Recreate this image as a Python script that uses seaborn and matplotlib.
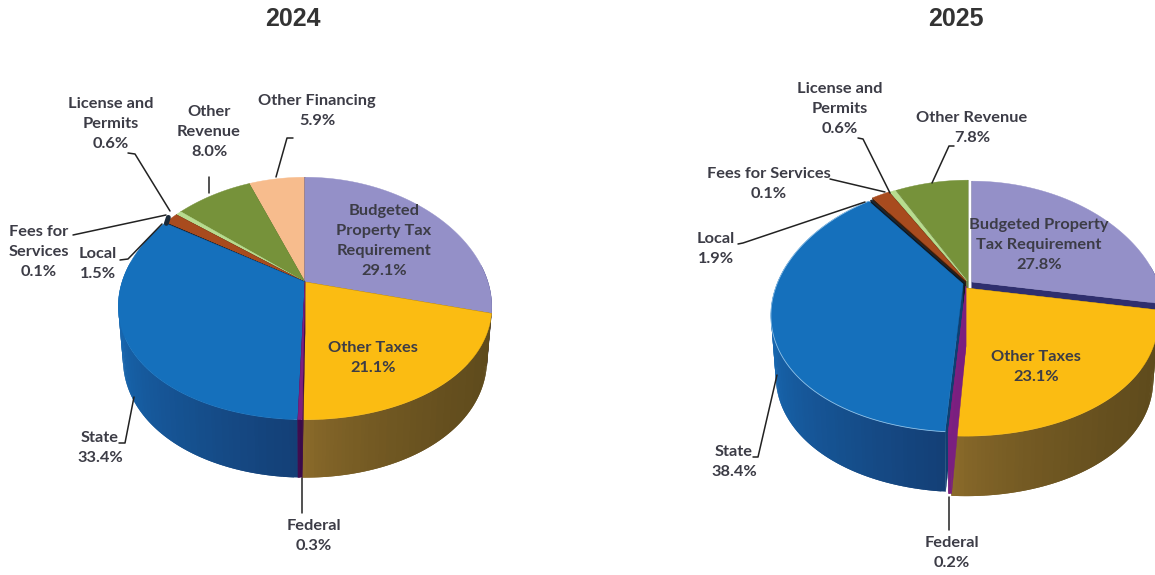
import numpy as np
import matplotlib
matplotlib.use("Agg")
import matplotlib.pyplot as plt
import seaborn as sns

# Slices run clockwise from 12 o'clock
names_2024 = ["Budgeted Property Tax Requirement", "Other Taxes", "Federal", "State",
              "Fees for Services", "Local", "License and Permits", "Other Revenue", "Other Financing"]
values_2024 = [29.1, 21.1, 0.3, 33.4, 0.1, 1.5, 0.6, 8.0, 5.9]

names_2025 = ["Budgeted Property Tax Requirement", "Other Taxes", "Federal", "State",
              "Fees for Services", "Local", "License and Permits", "Other Revenue"]
values_2025 = [27.8, 23.1, 0.2, 38.4, 0.1, 1.9, 0.6, 7.8]

# name: (top colour, cut face colour, wall colour on the left, wall colour on the right)
colors = {
    "Budgeted Property Tax Requirement": ("#9490c8", "#2f2f6e", "#2f2f6e", "#2f2f6e"),
    "Other Taxes": ("#fbbc12", "#6b5218", "#8f6e2c", "#5e4a1c"),
    "Federal": ("#7f1f7f", "#3a0a4a", "#4a0f55", "#3a0a4a"),
    "State": ("#1570bc", "#0f3f70", "#1766ae", "#143f76"),
    "Fees for Services": ("#1a2a3a", "#101820", "#1a2a3a", "#1a2a3a"),
    "Local": ("#a84b1e", "#3a1e0c", "#7a3614", "#7a3614"),
    "License and Permits": ("#b8dc8f", "#8aa868", "#8aa868", "#8aa868"),
    "Other Revenue": ("#76923a", "#55692a", "#55692a", "#55692a"),
    "Other Financing": ("#f7bc8d", "#c09068", "#c09068", "#c09068"),
}
federal_2025 = ("#7f1f7f", "#7a1f80", "#7a1f80", "#7a1f80")

# Layout in pixels: centre, radii, perspective, wall
layout_2024 = dict(cx=305, cy=282, rx=183, ry=119, kx=0.2, ky=0.136, wall=51, wall_b=1.05)
layout_2025 = dict(cx=963, cy=283, rx=186, ry=120, kx=0.25, ky=0.19, wall=60, wall_b=1.0)

explode_2025 = {
    "Budgeted Property Tax Requirement": (9, -1),
    "Other Taxes": (3, 5),
    "Federal": (3, 3),
    "State": (0, 1),
    "Fees for Services": (2, 0),
    "Local": (3, -2),
    "License and Permits": (4, -2),
    "Other Revenue": (5, -2),
}

labels_2024 = [
    ("Budgeted\nProperty Tax\nRequirement\n29.1%", 384, 241),
    ("Other Taxes\n21.1%", 373, 358),
    ("Federal\n0.3%", 314, 536),
    ("State\n33.4%", 100, 448),
    ("Local\n1.5%", 98, 264),
    ("Fees for\nServices\n0.1%", 39, 252),
    ("License and\nPermits\n0.6%", 111, 124),
    ("Other\nRevenue\n8.0%", 209, 132),
    ("Other Financing\n5.9%", 317, 111),
]
labels_2025 = [
    ("Budgeted Property\nTax Requirement\n27.8%", 1039, 245),
    ("Other Taxes\n23.1%", 1036, 367),
    ("Federal\n0.2%", 952, 553),
    ("State\n38.4%", 734, 462),
    ("Local\n1.9%", 716, 249),
    ("Fees for Services\n0.1%", 769, 184),
    ("License and\nPermits\n0.6%", 840, 109),
    ("Other Revenue\n7.8%", 972, 128),
]

leaders = [
    [(293, 138), (287, 138), (276, 177)],
    [(209, 177), (209, 193)],
    [(128, 153), (135, 154), (170, 211)],
    [(73, 235), (166, 215)],
    [(120, 260), (128, 259), (162, 224)],
    [(119, 443), (125, 443), (134, 397)],
    [(302, 478), (302, 513)],
    [(954, 146), (949, 146), (932, 183)],
    [(858, 138), (863, 139), (890, 193)],
    [(830, 179), (885, 192)],
    [(738, 244), (743, 243), (865, 202)],
    [(753, 457), (758, 457), (777, 375)],
    [(949, 497), (949, 530)],
]


def project(theta, r, lay, off, bottom=False):
    # theta is clockwise from the top, result is in picture pixels
    u = r * np.sin(theta)
    v = r * np.cos(theta)
    x = lay["rx"] * u / (1 + lay["kx"] * v)
    y = -lay["ry"] * v / (1 + lay["ky"] * v)
    if bottom:
        x = x * 0.975
        y = lay["wall"] + lay["wall_b"] * y
    return lay["cx"] + off[0] + x, lay["cy"] + off[1] + y


def draw_slice(ax, cols, start, end, lay, off, rim=None):
    top, face, wall_l, wall_r = cols
    n = max(int((end - start) / np.radians(1.0)), 2)
    thetas = np.linspace(start, end, n + 1)
    zeros = np.zeros(2)

    # cut faces
    for th in (start, end):
        xt, yt = project(np.array([th, th]), np.array([0.0, 1.0]), lay, off)
        xb, yb = project(np.array([th, th]), np.array([0.0, 1.0]), lay, off, bottom=True)
        ax.fill([xt[0], xt[1], xb[1], xb[0]], [yt[0], yt[1], yb[1], yb[0]], color=face, lw=0.3)

    # outer wall, each quad runs on under the next one so no seams show
    xt, yt = project(thetas, 1.0, lay, off)
    xb, yb = project(thetas, 1.0, lay, off, bottom=True)
    shown = np.cos(thetas) < 0.15
    if shown.any():
        x_lo, x_hi = xt[shown].min(), xt[shown].max()
        palette = sns.blend_palette([wall_l, wall_r], 41)
        for i in range(n):
            if not shown[i]:
                continue
            j = min(i + 2, n)
            t = (xt[i] - x_lo) / max(x_hi - x_lo, 1e-6)
            c = palette[int(40 * min(1, t ** 0.6))]
            ax.fill([xt[i], xt[j], xb[j], xb[i]], [yt[i], yt[j], yb[j], yb[i]], color=c, lw=0)

    # top
    x0, y0 = project(zeros, zeros, lay, off)
    ax.fill(np.r_[x0[0], xt], np.r_[y0[0], yt], color=top, lw=0.3)
    if rim:
        ax.plot(xt, yt, color=rim, lw=0.6)


def draw_pie(ax, names, values, lay, explode=None, rim=None, overrides=None):
    total = sum(values)
    edges = np.radians(np.r_[0, np.cumsum(values)] / total * 360)
    mids = (edges[:-1] + edges[1:]) / 2
    # painter's order, back slices first
    for i in np.argsort(-np.cos(mids)):
        off = explode[names[i]] if explode else (0, 0)
        cols = (overrides or {}).get(names[i], colors[names[i]])
        draw_slice(ax, cols, edges[i], edges[i + 1], lay, off,
                   rim if names[i] == "State" else None)
    return edges


sns.set_theme(style="white")
plt.rcParams["font.family"] = ["Lato", "Liberation Sans", "DejaVu Sans"]

fig = plt.figure(figsize=(11.55, 5.75), dpi=100)
ax = fig.add_axes([0, 0, 1, 1])
ax.set_xlim(0, 1155)
ax.set_ylim(575, 0)
ax.axis("off")

edges = draw_pie(ax, names_2024, values_2024, layout_2024)
# the tiny Fees slice shows as a dark notch on the rim
i = names_2024.index("Fees for Services")
fx, fy = project((edges[i] + edges[i + 1]) / 2, 0.99, layout_2024, (0, 0))
ax.plot([fx, fx + 2], [fy, fy - 6], color=colors["Fees for Services"][0], lw=3.5)

draw_pie(ax, names_2025, values_2025, layout_2025, explode_2025, rim="#8fc0e6",
         overrides={"Federal": federal_2025})

for pts in leaders:
    ax.plot([p[0] for p in pts], [p[1] for p in pts], color="#222222", lw=1.1)

for text, x, y in labels_2024 + labels_2025:
    ax.text(x, y, text, ha="center", va="center", fontsize=11.8, fontweight="bold",
            color="#3c3c46", linespacing=1.52)

for year, x in (("2024", 293), ("2025", 956)):
    ax.text(x, 19, year, ha="center", va="center", fontsize=18, fontweight="bold",
            color="#333333", family=["Liberation Sans", "DejaVu Sans"])

fig.savefig("out.png", dpi=100, facecolor="white")
